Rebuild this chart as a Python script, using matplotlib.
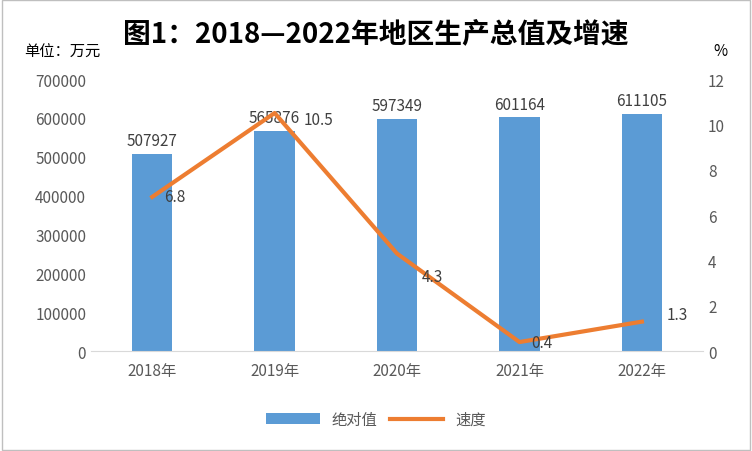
import matplotlib
matplotlib.use("Agg")
import matplotlib.pyplot as plt
from matplotlib.patches import Rectangle

plt.rcParams['font.family'] = ['Noto Sans CJK SC', 'DejaVu Sans']

years = ["2018年", "2019年", "2020年", "2021年", "2022年"]
values = [507927, 565876, 597349, 601164, 611105]
speeds = [6.8, 10.5, 4.3, 0.4, 1.3]

fig = plt.figure(figsize=(7.52, 4.52), dpi=100)
ax = fig.add_axes([0.121, 0.221, 0.814, 0.602])
ax2 = ax.twinx()

x = list(range(len(years)))
ax.bar(x, values, width=0.33, color="#5B9BD5", label="绝对值", zorder=2)
for xi, v in zip(x, values):
    ax.text(xi, v + 12000, str(v), ha="center", va="bottom", fontsize=11, color="#404040")

ax2.plot(x, speeds, color="#ED7D31", lw=3, label="速度", zorder=3)
offsets = [(0.1, 0.0), (0.24, -0.3), (0.2, -1.0), (0.1, 0.0), (0.2, 0.3)]
for xi, s, (dx, dy) in zip(x, speeds, offsets):
    ax2.text(xi + dx, s + dy, str(s), ha="left", va="center", fontsize=11, color="#404040")

ax.set_xlim(-0.5, 4.5)
ax.set_ylim(0, 700000)
ax.set_yticks(range(0, 700001, 100000))
ax2.set_ylim(0, 12)
ax2.set_yticks(range(0, 13, 2))
ax.set_xticks(x)
ax.set_xticklabels(years)
for a in (ax, ax2):
    for sp in a.spines.values():
        sp.set_visible(False)
    a.tick_params(length=0, labelsize=11, colors="#595959")
ax.spines["bottom"].set_visible(True)
ax.spines["bottom"].set_color("#D9D9D9")
ax.tick_params(axis="x", pad=8)

fig.text(0.5, 0.925, "图1：2018—2022年地区生产总值及增速", ha="center", va="center",
         fontsize=20, fontweight="bold", color="#000000")
fig.text(0.032, 0.885, "单位：万元", ha="left", va="center", fontsize=11, color="#000000")
fig.text(0.958, 0.885, "%", ha="center", va="center", fontsize=11, color="#000000")

h1, l1 = ax.get_legend_handles_labels()
h2, l2 = ax2.get_legend_handles_labels()
fig.legend(h1 + h2, l1 + l2, loc="center", bbox_to_anchor=(0.5, 0.07), ncol=2,
           frameon=False, fontsize=11, handlelength=3.5, columnspacing=0.8,
           labelcolor="#595959")

fig.add_artist(Rectangle((0.002, 0.002), 0.996, 0.996, transform=fig.transFigure,
                         fill=False, edgecolor="#BFBFBF", lw=1))
fig.savefig("out.png", dpi=100)
